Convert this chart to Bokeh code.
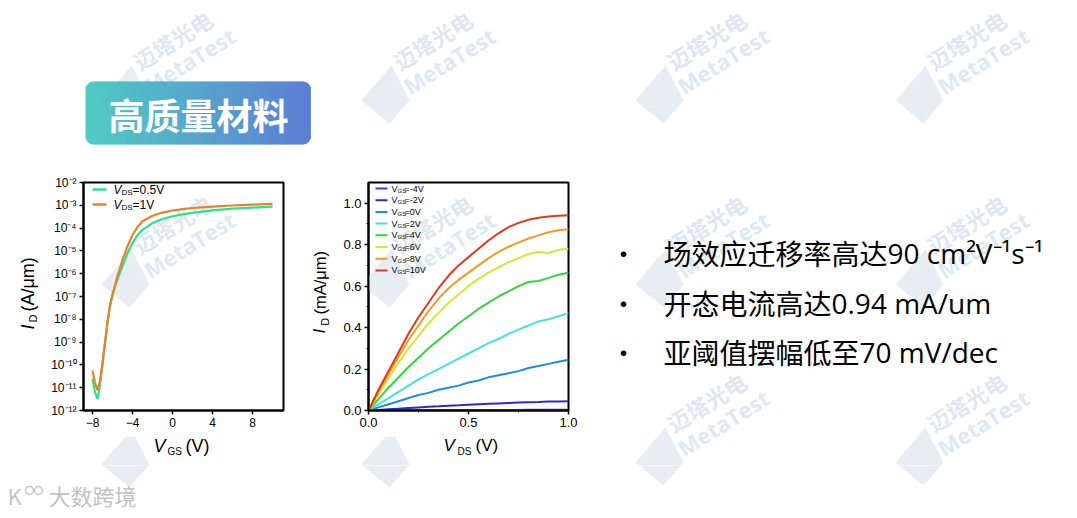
import math
from bokeh.plotting import figure
from bokeh.models import Range1d, FixedTicker, CustomJSTickFormatter, NumeralTickFormatter, Label
from bokeh.layouts import row, column
from bokeh.embed import file_html
from bokeh.resources import INLINE
from bokeh.core.properties import value

# ---------------- data ----------------
vgs = [-8, -7.75, -7.5, -7.25, -7, -6.75, -6.5, -6.25, -6, -5.5, -5, -4.5, -4,
       -3.5, -3, -2, -1, 0, 1, 2, 4, 6, 8, 10]
id_vds05 = [2.5e-11, 6.3e-12, 3.2e-12, 1.26e-11, 1.0e-10, 7.9e-10, 7.1e-9, 4.0e-8,
            1.26e-7, 5.6e-7, 2.2e-6, 7.9e-6, 2.2e-5, 5.0e-5, 8.3e-5, 1.66e-4,
            2.5e-4, 3.3e-4, 4.0e-4, 4.7e-4, 6.0e-4, 7.1e-4, 7.9e-4, 8.7e-4]
id_vds1 = [5.6e-11, 1.6e-11, 7.9e-12, 2.0e-11, 1.26e-10, 1.0e-9, 7.9e-9, 4.0e-8,
           1.12e-7, 7.9e-7, 4.0e-6, 1.6e-5, 5.0e-5, 1.12e-4, 2.0e-4, 3.5e-4,
           4.8e-4, 5.9e-4, 6.8e-4, 7.6e-4, 8.7e-4, 9.8e-4, 1.07e-3, 1.15e-3]
transfer_labels = ["=0.5V", "=1V"]
transfer_colors = ["#2fe08a", "#e8822a"]

vds = [0.0, 0.05, 0.1, 0.15, 0.2, 0.25, 0.3, 0.35, 0.4, 0.45, 0.5,
       0.55, 0.6, 0.65, 0.7, 0.75, 0.8, 0.85, 0.9, 0.95, 1.0]
id_m4 = [0, 0.0002, 0.0004, 0.0006, 0.0008, 0.001, 0.0012, 0.0014, 0.0016, 0.0018, 0.002,
         0.0022, 0.0024, 0.0026, 0.0028, 0.003, 0.0032, 0.0034, 0.0036, 0.0038, 0.004]
id_m2 = [0, 0.003, 0.006, 0.009, 0.012, 0.015, 0.018, 0.02, 0.023, 0.025, 0.028,
         0.03, 0.032, 0.034, 0.036, 0.038, 0.04, 0.041, 0.043, 0.044, 0.045]
id_0 = [0, 0.015, 0.03, 0.045, 0.06, 0.075, 0.085, 0.1, 0.11, 0.12, 0.135,
        0.145, 0.16, 0.17, 0.18, 0.19, 0.205, 0.215, 0.225, 0.235, 0.245]
id_2 = [0, 0.03, 0.06, 0.09, 0.12, 0.15, 0.175, 0.2, 0.225, 0.25, 0.275,
        0.3, 0.325, 0.345, 0.37, 0.39, 0.41, 0.43, 0.44, 0.455, 0.47]
id_4 = [0, 0.055, 0.11, 0.16, 0.21, 0.255, 0.3, 0.34, 0.38, 0.42, 0.455,
        0.49, 0.52, 0.55, 0.575, 0.6, 0.62, 0.625, 0.64, 0.655, 0.665]
id_6 = [0, 0.08, 0.155, 0.23, 0.3, 0.36, 0.42, 0.47, 0.52, 0.56, 0.6,
        0.635, 0.665, 0.69, 0.715, 0.735, 0.755, 0.765, 0.76, 0.775, 0.78]
id_8 = [0, 0.09, 0.175, 0.26, 0.34, 0.41, 0.48, 0.54, 0.59, 0.63, 0.665,
        0.7, 0.735, 0.765, 0.79, 0.81, 0.83, 0.845, 0.86, 0.87, 0.875]
id_10 = [0, 0.1, 0.19, 0.28, 0.37, 0.45, 0.52, 0.59, 0.65, 0.7, 0.74,
         0.78, 0.82, 0.855, 0.885, 0.905, 0.92, 0.93, 0.936, 0.94, 0.942]
output_series = [id_m4, id_m2, id_0, id_2, id_4, id_6, id_8, id_10]
output_labels = ["=-4V", "=-2V", "=0V", "=2V", "=4V", "=6V", "=8V", "=10V"]
output_colors = ["#6a22cc", "#2b2bcc", "#1f8de0", "#45e0e0", "#35d43a", "#d6e635", "#f59a1e", "#e0391e"]

title_text = "高质量材料"
bullet_cjk = ["场效应迁移率高达", "开态电流高达", "亚阈值摆幅低至"]
bullet_latin = ["90 cm²V⁻¹s⁻¹", "0.94 mA/um", "70 mV/dec"]
wm_cn, wm_en = "迈塔光电", "MetaTest"
brand = "大数跨境"

# ---------------- helpers ----------------
FONT = "Liberation Sans"
CJK = "Noto Sans CJK SC"
WM_ROW1 = [(143, 73), (403, 73), (677, 73), (937, 73)]
WM_ROW2 = [(143, 257), (403, 257), (677, 257), (937, 257)]
WM_ROW3 = [(143, 437), (403, 437), (677, 435), (937, 435)]
ALL_WM = WM_ROW1 + WM_ROW2 + WM_ROW3
ANG = 0.557
ICON = [(-42, 27), (-12, -8), (6, 27), (-14, 50)]


def wm_icons(p, fx, fy):
    for (x0, y0) in ALL_WM:
        p.patch([fx(x0 + dx) for dx, dy in ICON], [fy(y0 + dy) for dx, dy in ICON],
                fill_color="#e8edf4", line_color=None)


def wm_texts(p, pts, fx, fy):
    for (x0, y0) in pts:
        p.text(x=[fx(x0)], y=[fy(y0 + 3)], text=[wm_cn], angle=ANG,
               text_font=value(CJK), text_font_style="bold",
               text_font_size="22px", text_color="#dee7f0",
               text_align="left", text_baseline="bottom")
        p.text(x=[fx(x0 + 10)], y=[fy(y0 + 27)], text=[wm_en], angle=ANG,
               text_font=value("Open Sans"), text_font_style="bold",
               text_font_size="22px", text_color="#dce9f3",
               text_align="left", text_baseline="bottom")


def lab(p, x, y, text, size, italic=False, color="black"):
    p.add_layout(Label(x=x, y=y, text=text, text_font=FONT, text_font_size=size,
                       text_font_style="italic" if italic else "normal",
                       text_align="left", text_baseline="middle", text_color=color))


def gtext(p, x, y, text, size, italic=False, angle=0.0):
    p.text(x=[x], y=[y], text=[text], text_font=value(FONT), text_font_size=size,
           text_font_style="italic" if italic else "normal", angle=angle,
           text_align="left", text_baseline="middle", text_color="black")


def blank(w, h, xr, yr):
    p = figure(width=w, height=h, x_range=Range1d(*xr), y_range=Range1d(*yr),
               x_axis_type=None, y_axis_type=None, toolbar_location=None,
               output_backend="svg", min_border=0)
    p.frame_align = False
    p.outline_line_color = None
    p.grid.visible = False
    p.background_fill_color = "white"
    p.border_fill_color = "white"
    wm_icons(p, lambda v: v, lambda v: v)
    return p


def style_axes(p, size):
    p.frame_align = False
    p.grid.visible = False
    p.outline_line_color = "black"
    p.outline_line_width = 2
    p.axis.axis_line_color = "black"
    p.axis.axis_line_width = 2
    p.axis.major_tick_line_color = "black"
    p.axis.major_tick_line_width = 1.5
    p.axis.minor_tick_line_color = "black"
    p.axis.major_tick_in = 0
    p.axis.major_tick_out = 4
    p.axis.minor_tick_in = 0
    p.axis.minor_tick_out = 2
    p.axis.major_label_text_font = FONT
    p.axis.major_label_text_font_size = size
    p.axis.major_label_text_color = "black"
    p.axis.major_label_standoff = 3
    p.border_fill_color = "white"


ident = lambda v: v

# ---------------- top band ----------------
top = blank(1077, 172, (0, 1077), (172, 0))
wm_texts(top, WM_ROW1, ident, ident)
bx0, bx1, by0, by1, rad = 85, 310, 81, 144, 8
c0, c1 = (63, 199, 190), (74, 112, 208)
L, R, T, B, C = [], [], [], [], []
for i in range(bx1 - bx0):
    cx = bx0 + i + 0.5
    d = min(cx - bx0, bx1 - cx)
    inset = rad - math.sqrt(max(rad ** 2 - (rad - d) ** 2, 0)) if d < rad else 0
    t = i / (bx1 - bx0 - 1)
    col = tuple(int(c0[k] + (c1[k] - c0[k]) * t) for k in range(3))
    L.append(bx0 + i); R.append(bx0 + i + 1.3)
    T.append(by0 + inset); B.append(by1 - inset)
    C.append("#%02x%02x%02x" % col)
top.quad(left=L, right=R, top=T, bottom=B, fill_color=C, line_color=None)
top.text(x=[198], y=[113], text=[title_text], text_font=value(CJK),
         text_font_style="bold", text_font_size="36px", text_color="white",
         text_align="center", text_baseline="middle")

# ---------------- transfer plot ----------------
f1 = figure(width=260, height=264, x_range=Range1d(-8.9, 11.1), y_range=Range1d(1e-12, 1e-2),
            y_axis_type="log", toolbar_location=None, output_backend="svg",
            min_border_left=43, min_border_right=17, min_border_top=10, min_border_bottom=26)
fx1 = lambda x: -8.9 + (x - 83) / 10.0
fy1 = lambda y: 10 ** (-2 - (y - 182) / 22.8)
wm_icons(f1, fx1, fy1)
wm_texts(f1, [WM_ROW2[0]], fx1, fy1)
style_axes(f1, "12px")
f1.xaxis.ticker = FixedTicker(ticks=[-8, -4, 0, 4, 8], minor_ticks=[])
f1.yaxis.ticker = FixedTicker(ticks=[10.0 ** e for e in range(-12, -1)], minor_ticks=[])
f1.yaxis.formatter = CustomJSTickFormatter(code="""
const e = Math.round(Math.log10(tick));
const m = {"-":"\u207b","0":"\u2070","1":"\u00b9","2":"\u00b2","3":"\u00b3","4":"\u2074","5":"\u2075","6":"\u2076","7":"\u2077","8":"\u2078","9":"\u2079"};
return "10" + String(e).split("").map(c => m[c]).join("");
""")
for ys, colr in zip([id_vds05, id_vds1], transfer_colors):
    f1.line(vgs, ys, line_color=colr, line_width=2.2)
for k, (txt, colr) in enumerate(zip(transfer_labels, transfer_colors)):
    yy = 189 + 15 * k
    f1.line([fx1(92), fx1(106)], [fy1(yy), fy1(yy)], line_color=colr, line_width=2.5)
    lab(f1, fx1(113), fy1(yy), "V", "12px", italic=True)
    lab(f1, fx1(121), fy1(yy + 3), "DS", "8px")
    lab(f1, fx1(132), fy1(yy), txt, "12px")

yl1 = blank(40, 264, (0, 40), (436, 172))
gtext(yl1, 27, 329, "I", "18px", italic=True, angle=math.pi / 2)
gtext(yl1, 32, 322, "D", "11px", angle=math.pi / 2)
gtext(yl1, 27, 311, "(A/μm)", "18px", angle=math.pi / 2)
xl1 = blank(300, 29, (0, 300), (465, 436))
gtext(xl1, 153, 445, "V", "18px", italic=True)
gtext(xl1, 167, 451, "GS", "10px")
gtext(xl1, 185, 445, "(V)", "18px")

# ---------------- output plot ----------------
f2 = figure(width=255, height=264, x_range=Range1d(0, 1), y_range=Range1d(0, 1.1),
            toolbar_location=None, output_backend="svg",
            min_border_left=33, min_border_right=22, min_border_top=10, min_border_bottom=26)
fx2 = lambda x: (x - 368) / 200.0
fy2 = lambda y: (410 - y) / 228.0 * 1.1
wm_icons(f2, fx2, fy2)
wm_texts(f2, [WM_ROW2[1]], fx2, fy2)
style_axes(f2, "13px")
f2.xaxis.ticker = FixedTicker(ticks=[0, 0.5, 1.0], minor_ticks=[0.25, 0.75])
f2.yaxis.ticker = FixedTicker(ticks=[0, 0.2, 0.4, 0.6, 0.8, 1.0],
                              minor_ticks=[0.1, 0.3, 0.5, 0.7, 0.9])
f2.axis.formatter = NumeralTickFormatter(format="0.0")
for ys, colr in zip(output_series, output_colors):
    f2.line(vds, ys, line_color=colr, line_width=2)
for k, (txt, colr) in enumerate(zip(output_labels, output_colors)):
    yy = 188 + 11.7 * k
    f2.line([fx2(375), fx2(387)], [fy2(yy), fy2(yy)], line_color=colr, line_width=2)
    lab(f2, fx2(391), fy2(yy), "V", "9px")
    lab(f2, fx2(397), fy2(yy + 2), "GS", "6px")
    lab(f2, fx2(404), fy2(yy), txt, "9px")

yl2 = blank(35, 264, (300, 335), (436, 172))
gtext(yl2, 319, 333, "I", "17px", italic=True, angle=math.pi / 2)
gtext(yl2, 324, 325, "D", "10.5px", angle=math.pi / 2)
gtext(yl2, 319, 314, "(mA/μm)", "16.5px", angle=math.pi / 2)
xl2 = blank(290, 29, (300, 590), (465, 436))
gtext(xl2, 443, 445, "V", "17px", italic=True)
gtext(xl2, 457, 451, "DS", "10px")
gtext(xl2, 475, 445, "(V)", "17px")

# ---------------- bullets ----------------
f3 = blank(487, 293, (590, 1077), (465, 172))
wm_texts(f3, WM_ROW2[2:] + WM_ROW3[2:], ident, ident)
bl_y = [252, 302, 351]
f3.text(x=[623] * 3, y=bl_y, text=["•"] * 3, text_font=value(CJK),
        text_font_size="26px", text_color="black", text_align="center", text_baseline="middle")
cjk_size = 28
f3.text(x=[663] * 3, y=bl_y, text=bullet_cjk, text_font=value(CJK),
        text_font_size="%dpx" % cjk_size, text_color="black", text_align="left",
        text_baseline="middle")
f3.text(x=[663 + cjk_size * len(s) for s in bullet_cjk], y=bl_y, text=bullet_latin,
        text_font=value("Open Sans"), text_font_size="28px", text_color="black",
        text_align="left", text_baseline="middle")

# ---------------- bottom band ----------------
bot = blank(1077, 53, (0, 1077), (518, 465))
bot.text(x=[7], y=[494], text=["K"], text_font=value(CJK), text_font_size="22px",
         text_color="#c6c6c6", text_align="left", text_baseline="middle")
bot.scatter(x=[29, 38], y=[490, 490], size=8, marker="circle", fill_color=None,
            line_color="#c6c6c6", line_width=1.5)
bot.text(x=[48], y=[494], text=[brand], text_font=value(CJK), text_font_size="22px",
         text_color="#c2c2c2", text_align="left", text_baseline="middle")

layout = column(top,
                row(column(row(yl1, f1), xl1), column(row(yl2, f2), xl2), f3),
                bot)
open("out.html", "w").write(file_html(layout, INLINE))
